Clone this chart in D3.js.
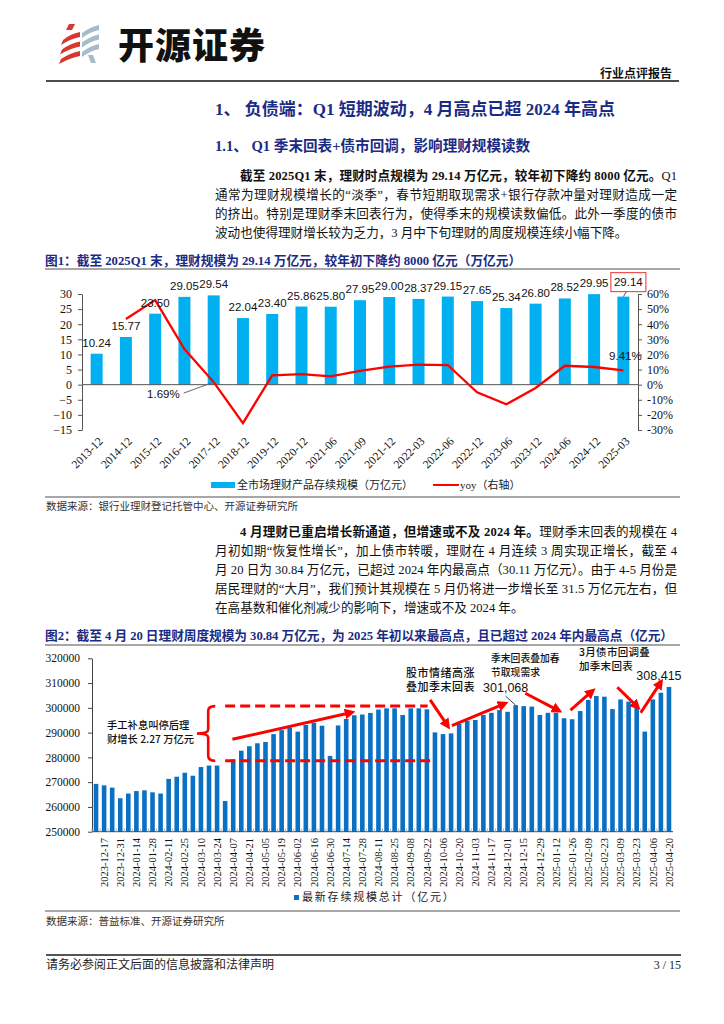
<!DOCTYPE html>
<html><head><meta charset="utf-8">
<script src="https://cdn.jsdelivr.net/npm/d3@7/dist/d3.min.js"></script>
<style>
html,body{margin:0;padding:0;background:#fff;}
text{font-family:"Liberation Serif","Noto Sans CJK SC",serif;}
.cjk{font-family:"Noto Sans CJK SC",sans-serif;}
.sans{font-family:"Liberation Sans","Noto Sans CJK SC",sans-serif;}
</style></head><body>
<svg id="page" width="724" height="1024" xmlns="http://www.w3.org/2000/svg"></svg>
<script>
// ---------------- DATA ----------------
const c1Categories = ["2013-12","2014-12","2015-12","2016-12","2017-12","2018-12","2019-12","2020-12","2021-06","2021-09","2021-12","2022-03","2022-06","2022-12","2023-06","2023-12","2024-06","2024-12","2025-03"];
const c1Scale = [10.24,15.77,23.50,29.05,29.54,22.04,23.40,25.86,25.80,27.95,29.00,28.37,29.15,27.65,25.34,26.80,28.52,29.95,29.14];
const c1Yoy = [null,43.5,56.0,23.6,1.69,-25.4,6.2,7.0,5.5,9.2,12.0,13.2,13.0,-5.0,-13.0,-2.2,12.5,11.7,9.41];
const c1LeftTicks = [-15,-10,-5,0,5,10,15,20,25,30];
const c1RightTicks = [-30,-20,-10,0,10,20,30,40,50,60];

const c2Dates = ["2023-12-10","2023-12-17","2023-12-24","2023-12-31","2024-01-07","2024-01-14","2024-01-21","2024-01-28","2024-02-04","2024-02-11","2024-02-18","2024-02-25","2024-03-03","2024-03-10","2024-03-17","2024-03-24","2024-03-31","2024-04-07","2024-04-14","2024-04-21","2024-04-28","2024-05-05","2024-05-12","2024-05-19","2024-05-26","2024-06-02","2024-06-09","2024-06-16","2024-06-23","2024-06-30","2024-07-07","2024-07-14","2024-07-21","2024-07-28","2024-08-04","2024-08-11","2024-08-18","2024-08-25","2024-09-01","2024-09-08","2024-09-15","2024-09-22","2024-09-29","2024-10-06","2024-10-13","2024-10-20","2024-10-27","2024-11-03","2024-11-10","2024-11-17","2024-11-24","2024-12-01","2024-12-08","2024-12-15","2024-12-22","2024-12-29","2025-01-05","2025-01-12","2025-01-19","2025-01-26","2025-02-02","2025-02-09","2025-02-16","2025-02-23","2025-03-02","2025-03-09","2025-03-16","2025-03-23","2025-03-30","2025-04-06","2025-04-13","2025-04-20"];
const c2Values = [269300,268700,267800,263500,265400,266400,266700,265900,265400,271300,
272200,273800,272600,276100,276700,276700,262400,279200,282700,284500,
285700,286200,289400,291000,292100,290400,293100,294000,292800,280600,
292900,295500,297000,297300,297950,299300,299800,299800,297100,299800,
299800,299400,290100,289400,289700,293500,294800,295100,297100,298000,
299100,298400,301068,300700,300500,297100,298000,298000,295800,295400,
298700,303200,304800,304500,299500,303400,302500,301100,290400,303400,306100,308415];
const c2TickLabels = c2Dates.filter((d,i)=>i%2===1);
const c2YTicks = [250000,260000,270000,280000,290000,300000,310000,320000];

// annotations for chart 2 (bar-index position, value)
const c2Arrows = [
  [16.9,287300,31.5,298000],
  [41.4,303200,43.5,293100],
  [44.1,292800,50.5,301500],
  [53.2,305900,57.2,299100],
  [58.8,299100,61.4,306500],
  [64.6,308300,67.0,300700],
  [67.5,298000,69.9,309900]
];
const c2BandTop = 300700, c2BandBottom = 278600;

// ---------------- PAGE ----------------
const svg = d3.select("#page");
const NAVY = "#1b2b84";

// logo
const logo = svg.append("g");
const red = "#d7382d", gb = "#a5bccb";
logo.append("path").attr("d","M69,24 L75,24 L72,30 L66,30 Z").attr("fill",red);
[0,1,2].forEach(k=>{
  const y0 = 33 + k*9.5;
  logo.append("path").attr("d",`M${63-k},${y0+7} Q70,${y0+1} 80,${y0-1} L80,${y0+4} Q70,${y0+6} ${61-k},${y0+12} Z`).attr("fill",red);
  const y1 = 26 + k*9.5;
  logo.append("path").attr("d",`M82,${y1+7} Q90,${y1+1} 99,${y1-1} L99,${y1+4} Q90,${y1+6} 82,${y1+12} Z`).attr("fill",gb);
});
logo.append("path").attr("d","M88,55 L93,55 L96,63 L91,63 Z").attr("fill",gb);

svg.append("text").attr("class","cjk").attr("x",118).attr("y",59)
  .attr("font-size",36).attr("font-weight",900).attr("fill","#111").attr("letter-spacing",1).text("开源证券");
svg.append("text").attr("class","cjk").attr("x",672).attr("y",78).attr("text-anchor","end")
  .attr("font-size",12).attr("font-weight",700).attr("fill","#111").text("行业点评报告");
svg.append("line").attr("x1",46).attr("x2",679).attr("y1",81).attr("y2",81).attr("stroke","#111").attr("stroke-width",1.6);

// headings
svg.append("text").attr("x",215).attr("y",114.5).attr("font-size",17).attr("font-weight",700).attr("fill",NAVY)
  .text("1、 负债端：Q1 短期波动，4 月高点已超 2024 年高点");
svg.append("text").attr("x",215).attr("y",150.5).attr("font-size",14.6).attr("font-weight",700).attr("fill",NAVY)
  .text("1.1、 Q1 季末回表+债市回调，影响理财规模读数");

function paragraph(lines, y0, step){
  lines.forEach((ln,i)=>{
    const t = svg.append("text").attr("x",ln.x).attr("y",y0+i*step).attr("font-size",12.6).attr("fill","#111");
    if(ln.bold) t.append("tspan").attr("font-weight",700).text(ln.bold);
    if(ln.normal) t.append("tspan").text(ln.normal);
    if(ln.justify) t.attr("textLength",677-ln.x).attr("lengthAdjust","spacing");
  });
}
paragraph([
  {x:240,bold:"截至 2025Q1 末，理财时点规模为 29.14 万亿元，较年初下降约 8000 亿元。",normal:"Q1",justify:true},
  {x:215,normal:"通常为理财规模增长的“淡季”，春节短期取现需求+银行存款冲量对理财造成一定",justify:true},
  {x:215,normal:"的挤出。特别是理财季末回表行为，使得季末的规模读数偏低。此外一季度的债市",justify:true},
  {x:215,normal:"波动也使得理财增长较为乏力，3 月中下旬理财的周度规模连续小幅下降。"}
],179.5,19.3);

svg.append("text").attr("x",45).attr("y",264.5).attr("font-size",12.7).attr("font-weight",700).attr("fill",NAVY)
  .text("图1：截至 2025Q1 末，理财规模为 29.14 万亿元，较年初下降约 8000 亿元（万亿元）");
svg.append("line").attr("x1",45).attr("x2",680).attr("y1",269).attr("y2",269).attr("stroke","#8a8a8a").attr("stroke-width",1.5);

// ---------------- CHART 1 ----------------
const c1 = svg.append("g");
const x1 = d3.scaleBand().domain(c1Categories).range([82,638]).paddingInner(0.59).paddingOuter(0.295);
const yL = d3.scaleLinear().domain([-15,30]).range([430,294]);
const yR = d3.scaleLinear().domain([-30,60]).range([430,294]);
const cx1 = i => x1(c1Categories[i]) + x1.bandwidth()/2;

c1.selectAll("rect.bar").data(c1Scale).join("rect").attr("class","bar")
  .attr("x",(d,i)=>x1(c1Categories[i])).attr("y",d=>yL(d))
  .attr("width",x1.bandwidth()).attr("height",d=>yL(0)-yL(d)).attr("fill","#00b0f0");

const axL = c1.append("g").attr("transform","translate(82,0)")
  .call(d3.axisLeft(yL).tickValues(c1LeftTicks).tickSize(4).tickSizeOuter(0).tickPadding(6));
const axR = c1.append("g").attr("transform","translate(638,0)")
  .call(d3.axisRight(yR).tickValues(c1RightTicks).tickSize(4).tickSizeOuter(0).tickPadding(5).tickFormat(d=>d+"%"));
[axL,axR].forEach(a=>{
  a.selectAll("path,line").attr("stroke","#555");
  a.selectAll("text").attr("font-size",12).attr("fill","#111").attr("font-family","Liberation Serif");
});
c1.append("line").attr("x1",82).attr("x2",638).attr("y1",yL(0)).attr("y2",yL(0)).attr("stroke","#555");

c1.selectAll("text.xl").data(c1Categories).join("text").attr("class","xl")
  .attr("transform",(d,i)=>`translate(${cx1(i)+4},439) rotate(-45)`)
  .attr("text-anchor","end").attr("dy","0.35em").attr("font-size",11.5).attr("fill","#111").text(d=>d);

const line1 = d3.line().defined(d=>d!=null).x((d,i)=>cx1(i)).y(d=>yR(d));
c1.append("path").datum(c1Yoy).attr("d",line1).attr("fill","none").attr("stroke","#ff0000").attr("stroke-width",2.3);

// value labels
c1.selectAll("text.vl").data(c1Scale).join("text").attr("class","vl sans")
  .attr("x",(d,i)=>cx1(i) + (i===18?5:0))
  .attr("y",(d,i)=>yL(d)-(i===18?11:7))
  .attr("text-anchor","middle").attr("font-size",11.5).attr("fill","#111")
  .text(d=>d.toFixed(2));
// box around last label
{
  const i=18, xc=cx1(i)+5, yb=yL(c1Scale[i])-11;
  c1.append("rect").attr("x",xc-17.5).attr("y",yb-13).attr("width",35).attr("height",19)
    .attr("fill","none").attr("stroke","#f05050").attr("stroke-width",1.2);
  c1.append("line").attr("x1",cx1(i)+3).attr("y1",yb+6).attr("x2",cx1(i)).attr("y2",yL(c1Scale[i])).attr("stroke","#555");
}
// yoy labels
{
  const px = cx1(4), py = yR(c1Yoy[4]);
  c1.append("text").attr("class","sans").attr("x",px-34).attr("y",py+16).attr("text-anchor","end")
    .attr("font-size",11.5).attr("fill","#111").text(c1Yoy[4].toFixed(2)+"%");
  c1.append("line").attr("x1",px-30).attr("y1",py+11).attr("x2",px).attr("y2",py).attr("stroke","#666");
  const qx = cx1(18), qy = yR(c1Yoy[18]);
  c1.append("text").attr("class","sans").attr("x",qx+2).attr("y",qy-10).attr("text-anchor","middle")
    .attr("font-size",11.5).attr("fill","#111").text(c1Yoy[18].toFixed(2)+"%");
}
// legend 1
c1.append("rect").attr("x",211).attr("y",482).attr("width",24).attr("height",6).attr("fill","#00b0f0");
c1.append("text").attr("x",237).attr("y",489).attr("font-size",11).attr("fill","#222").text("全市场理财产品存续规模（万亿元）");
c1.append("line").attr("x1",433).attr("x2",459).attr("y1",485).attr("y2",485).attr("stroke","#ff0000").attr("stroke-width",2);
c1.append("text").attr("x",460).attr("y",489).attr("font-size",11).attr("fill","#222").text("yoy（右轴）");

svg.append("line").attr("x1",45).attr("x2",680).attr("y1",497).attr("y2",497).attr("stroke","#8a8a8a").attr("stroke-width",1.5);
svg.append("text").attr("x",46).attr("y",510).attr("font-size",10.5).attr("fill","#333").text("数据来源：银行业理财登记托管中心、开源证券研究所");

paragraph([
  {x:240,bold:"4 月理财已重启增长新通道，但增速或不及 2024 年。",normal:"理财季末回表的规模在 4",justify:true},
  {x:215,normal:"月初如期“恢复性增长”，加上债市转暖，理财在 4 月连续 3 周实现正增长，截至 4",justify:true},
  {x:215,normal:"月 20 日为 30.84 万亿元，已超过 2024 年内最高点（30.11 万亿元）。由于 4-5 月份是",justify:true},
  {x:215,normal:"居民理财的“大月”，我们预计其规模在 5 月仍将进一步增长至 31.5 万亿元左右，但",justify:true},
  {x:215,normal:"在高基数和催化剂减少的影响下，增速或不及 2024 年。"}
],536,19.1);

svg.append("text").attr("x",45).attr("y",640).attr("font-size",12.7).attr("font-weight",700).attr("fill",NAVY)
  .attr("textLength",628).attr("lengthAdjust","spacing")
  .text("图2：截至 4 月 20 日理财周度规模为 30.84 万亿元，为 2025 年初以来最高点，且已超过 2024 年内最高点（亿元）");
svg.append("line").attr("x1",45).attr("x2",680).attr("y1",645).attr("y2",645).attr("stroke","#8a8a8a").attr("stroke-width",1.5);

// ---------------- CHART 2 ----------------
const c2 = svg.append("g");
const x2 = d3.scaleBand().domain(c2Dates).range([92,673]).paddingInner(0.43).paddingOuter(0.215);
const y2 = d3.scaleLinear().domain([250000,320000]).range([831.7,658.3]);
const step2 = x2.step();
const pos2 = p => x2(c2Dates[0]) + x2.bandwidth()/2 + p*step2;   // fractional bar position

c2.selectAll("rect.bar").data(c2Values).join("rect").attr("class","bar")
  .attr("x",(d,i)=>x2(c2Dates[i])).attr("y",d=>y2(d))
  .attr("width",x2.bandwidth()).attr("height",d=>y2(250000)-y2(d)).attr("fill","#0a70c4");

const axY2 = c2.append("g").attr("transform","translate(92,0)")
  .call(d3.axisLeft(y2).tickValues(c2YTicks).tickSize(4).tickSizeOuter(0).tickPadding(8).tickFormat(d3.format("d")));
axY2.selectAll("path,line").attr("stroke","#444");
axY2.selectAll("text").attr("font-size",11.5).attr("fill","#111").attr("font-family","Liberation Serif");
c2.append("line").attr("x1",92).attr("x2",673).attr("y1",y2(250000)).attr("y2",y2(250000)).attr("stroke","#444");
c2.selectAll("line.tk").data(c2Dates).join("line").attr("class","tk")
  .attr("x1",d=>x2(d)-x2.step()*0.215).attr("x2",d=>x2(d)-x2.step()*0.215)
  .attr("y1",y2(250000)).attr("y2",y2(250000)-3).attr("stroke","#aaa");

c2.selectAll("text.xl").data(c2TickLabels).join("text").attr("class","xl")
  .attr("transform",d=>`translate(${x2(d)+x2.bandwidth()/2},838) rotate(-90)`)
  .attr("text-anchor","end").attr("dy","0.35em").attr("font-size",10.5).attr("fill","#111").text(d=>d);

// annotations
const defs = svg.append("defs");
defs.append("marker").attr("id","ah").attr("viewBox","0 0 10 10").attr("refX",5).attr("refY",5)
  .attr("markerWidth",3.6).attr("markerHeight",3.6).attr("orient","auto")
  .append("path").attr("d","M0,0 L10,5 L0,10 Z").attr("fill","#ff0000");

const ann = c2.append("g");
// dashed band
[[c2BandTop,16.0,41.1],[c2BandBottom,16.0,41.6]].forEach(([v,a,b])=>{
  ann.append("line").attr("x1",pos2(a)).attr("x2",pos2(b)).attr("y1",y2(v)).attr("y2",y2(v))
    .attr("stroke","#ff0000").attr("stroke-width",3).attr("stroke-dasharray","10,5");
});
// brace
{
  const xt = pos2(14.4), xv = pos2(13.9), xp = pos2(12.5);
  const yt = y2(c2BandTop), yb = y2(c2BandBottom), ym = (yt+yb)/2;
  ann.append("path").attr("d",
    `M${xt+3},${yt} Q${xv},${yt} ${xv},${yt+5} L${xv},${ym-4} Q${xv},${ym} ${xp},${ym} Q${xv},${ym} ${xv},${ym+4} L${xv},${yb-5} Q${xv},${yb} ${xt+3},${yb}`)
    .attr("fill","none").attr("stroke","#ff0000").attr("stroke-width",2.6);
}
ann.selectAll("line.arr").data(c2Arrows).join("line").attr("class","arr")
  .attr("x1",d=>pos2(d[0])).attr("y1",d=>y2(d[1])).attr("x2",d=>pos2(d[2])).attr("y2",d=>y2(d[3]))
  .attr("stroke","#ff0000").attr("stroke-width",3).attr("marker-end","url(#ah)");

function annText(lines,x,y,fs,ls){
  lines.forEach((s,i)=>ann.append("text").attr("class","cjk").attr("x",x).attr("y",y+i*14)
    .attr("font-size",fs).attr("font-weight",500).attr("letter-spacing",ls).attr("fill","#111").text(s));
}
annText(["手工补息叫停后理","财增长 2.27 万亿元"],107,729,10.3,0);
annText(["股市情绪高涨","叠加季末回表"],406,677,11,0.5);
annText(["季末回表叠加春","节取现需求"],491,662,9.8,0);
annText(["3月债市回调叠","加季末回表"],579,655.5,10.5,0.3);

ann.append("text").attr("class","sans").attr("x",pos2(52)-10).attr("y",y2(c2Values[52])-13)
  .attr("text-anchor","middle").attr("font-size",12.5).attr("fill","#111").text(d3.format(",")(c2Values[52]));
ann.append("line").attr("x1",pos2(52)-10).attr("y1",y2(c2Values[52])-9).attr("x2",pos2(52)).attr("y2",y2(c2Values[52])).attr("stroke","#444");
ann.append("text").attr("class","sans").attr("x",pos2(71)-10).attr("y",y2(c2Values[71])-7)
  .attr("text-anchor","middle").attr("font-size",12.5).attr("fill","#111").text(d3.format(",")(c2Values[71]));

// legend 2
c2.append("rect").attr("x",294).attr("y",895).attr("width",5).attr("height",5).attr("fill","#0a70c4");
c2.append("text").attr("x",302).attr("y",901).attr("font-size",11).attr("letter-spacing",1.8).attr("fill","#222").text("最新存续规模总计（亿元）");

svg.append("line").attr("x1",45).attr("x2",680).attr("y1",911).attr("y2",911).attr("stroke","#8a8a8a").attr("stroke-width",1.5);
svg.append("text").attr("x",46).attr("y",925).attr("font-size",10.5).attr("fill","#333").text("数据来源：普益标准、开源证券研究所");

// footer
svg.append("line").attr("x1",46).attr("x2",681).attr("y1",955).attr("y2",955).attr("stroke","#555").attr("stroke-width",2);
svg.append("text").attr("x",46).attr("y",969).attr("font-size",12).attr("fill","#222").text("请务必参阅正文后面的信息披露和法律声明");
svg.append("text").attr("x",681).attr("y",969).attr("text-anchor","end").attr("font-size",12).attr("fill","#222").text("3 / 15");
</script></body></html>
